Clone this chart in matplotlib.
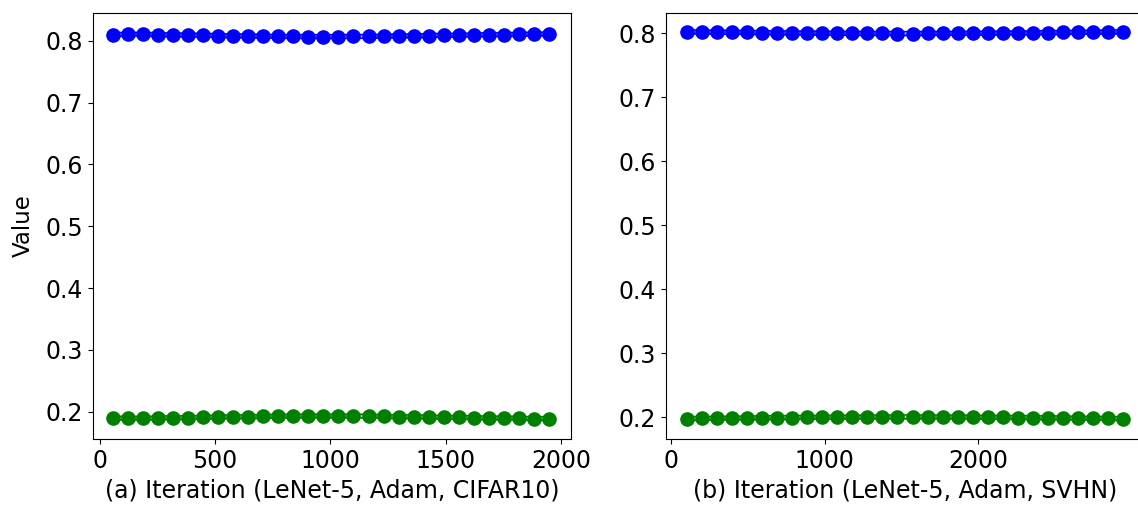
import numpy as np
import matplotlib
matplotlib.use("Agg")
import matplotlib.pyplot as plt

# iterations at which the values were logged
iters_a = np.linspace(56, 1948, 30)
iters_b = np.linspace(104, 2945, 30)

# (a) LeNet-5, Adam, CIFAR10
blue_a = [0.810, 0.8105, 0.8105, 0.810, 0.8095, 0.8095, 0.809, 0.8085, 0.808, 0.808,
          0.8075, 0.807, 0.807, 0.8068, 0.8068, 0.8068, 0.807, 0.807, 0.8075, 0.808,
          0.808, 0.8085, 0.809, 0.809, 0.8095, 0.810, 0.810, 0.8105, 0.811, 0.811]
green_a = [0.190, 0.1895, 0.1895, 0.190, 0.1905, 0.1905, 0.191, 0.1915, 0.192, 0.192,
           0.1925, 0.193, 0.193, 0.1932, 0.1932, 0.1932, 0.193, 0.193, 0.1925, 0.192,
           0.192, 0.1915, 0.191, 0.191, 0.1905, 0.190, 0.190, 0.1895, 0.189, 0.189]

# (b) LeNet-5, Adam, SVHN
blue_b = [0.8025, 0.8022, 0.802, 0.8018, 0.8015, 0.8012, 0.801, 0.8008, 0.8006, 0.8005,
          0.8003, 0.8002, 0.8, 0.8, 0.7998, 0.7998, 0.8, 0.8, 0.8002, 0.8003,
          0.8005, 0.8006, 0.8008, 0.801, 0.8012, 0.8015, 0.8018, 0.802, 0.8022, 0.8025]
green_b = [0.1975, 0.1978, 0.198, 0.1982, 0.1985, 0.1988, 0.199, 0.1992, 0.1994, 0.1995,
           0.1997, 0.1998, 0.2, 0.2, 0.2002, 0.2002, 0.2, 0.2, 0.1998, 0.1997,
           0.1995, 0.1994, 0.1992, 0.199, 0.1988, 0.1985, 0.1982, 0.198, 0.1978, 0.1975]

spread = 0.003

plt.rcParams['font.size'] = 17

fig = plt.figure(figsize=(11.38, 5.05), dpi=100)
ax_a = fig.add_axes([0.0817, 0.1307, 0.420, 0.8436])
ax_b = fig.add_axes([0.5852, 0.1307, 0.420, 0.8436])


def draw(ax, x, series):
    for vals, col in series:
        vals = np.array(vals)
        ax.fill_between(x, vals - spread, vals + spread, color=col, alpha=0.25, lw=0)
        ax.plot(x, vals - spread, color=col, lw=1.2)
        ax.plot(x, vals + spread, color=col, lw=1.2)
        ax.plot(x, vals, 'o', color=col, markersize=9.5)


draw(ax_a, iters_a, [(blue_a, 'blue'), (green_a, 'green')])
draw(ax_b, iters_b, [(blue_b, 'blue'), (green_b, 'green')])

ax_a.set_xlim(-30, 2043)
ax_a.set_ylim(0.156, 0.845)
ax_a.set_xticks([0, 500, 1000, 1500, 2000])
ax_a.set_ylabel('Value', fontsize=16.5, labelpad=8)
ax_a.set_xlabel('(a) Iteration (LeNet-5, Adam, CIFAR10)', labelpad=4)

ax_b.set_xlim(-33, 3081)
ax_b.set_ylim(0.1656, 0.832)
ax_b.set_xticks([0, 1000, 2000])
ax_b.set_xlabel('(b) Iteration (LeNet-5, Adam, SVHN)', labelpad=4)

for ax in (ax_a, ax_b):
    ax.set_yticks([0.2, 0.3, 0.4, 0.5, 0.6, 0.7, 0.8])

fig.savefig('out.png', dpi=100)
